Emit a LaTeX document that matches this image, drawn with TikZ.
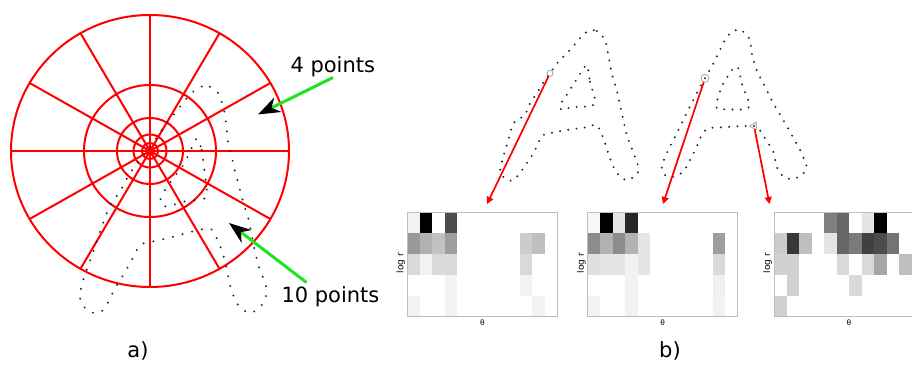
\documentclass[tikz,border=0pt]{standalone}
\usepackage{fontspec}
\setmainfont{DejaVu Sans}
\usetikzlibrary{arrows.meta,shapes.geometric}

\definecolor{ptgreen}{RGB}{30,228,30}
\definecolor{boxgray}{RGB}{190,190,190}

\tikzset{
  grid/.style={red, line width=2pt},
  letter/.style={black!85, line width=2.2pt, line cap=round, dash pattern=on 0pt off 8.3pt},
  bigletter/.style={letter, dash pattern=on 0pt off 10pt},
  pointer/.style={ptgreen, line width=3pt, -{Stealth[length=22pt,width=16pt,inset=7pt,black]}},
  probe/.style={red, line width=1.7pt, -{Triangle[length=7pt,width=7pt]}},
  keypt/.style={circle, draw=black!45, line width=0.6pt, inner sep=0pt, minimum size=#1},
  keytri/.style={regular polygon, regular polygon sides=3, shape border rotate=90, draw=black!45, line width=0.6pt, inner sep=0pt, minimum size=9pt},
  big/.style={font=\fontsize{21}{25}\selectfont},
  small/.style={font=\fontsize{9}{10}\selectfont}
}

\begin{document}
\begin{tikzpicture}[x=1pt, y=-1pt]
\useasboundingbox (0,0) rectangle (912,364);
\clip (0,0) rectangle (912,364);
\fill[white] (0,0) rectangle (912,364);

% log-polar bins
\coordinate (ctr) at (150,151);
\draw[grid] (ctr) ellipse (139 and 136);
\foreach \r in {66,33,16.5,8,4}
  \draw[grid] (ctr) circle (\r);
\foreach \a in {0,30,...,330}
  \draw[grid] (ctr) -- ++({139*cos(\a)},{136*sin(\a)});
\fill[red] (ctr) circle (3);

% sampled letter under the bins
\draw[bigletter] plot[smooth cycle, tension=0.45] coordinates {
  (200,86.7) (210,86.7) (218.3,93.3) (221.7,101.7) (225,115) (226.7,130)
  (228.3,145) (231.7,156.7) (235,171.7) (238.3,183.3) (241.7,196.7) (245,208.3)
  (248.3,218.3) (251.7,235) (255,251.7) (258.3,265) (263.3,278.3) (266.7,290)
  (263.3,303.3) (250,313.3) (236.7,303.3) (230,285) (226.7,268.3) (223.3,255)
  (218.3,241.7) (213.3,231.7) (208.3,228.3) (191.7,231.7) (170,237.7) (151.7,241.7)
  (140,245) (131.7,260) (123.3,275) (115,288.3) (108.3,301.7) (103.3,310)
  (96.7,313.3) (86.7,310) (80,298.3) (81.7,285) (86.7,270) (93.3,251.7)
  (100,231.7) (105,218.3) (110,205) (120,191.7) (125,181.7) (133.3,168.3)
  (143.3,155) (155,140) (165,125) (173.3,115) (180,106.7) (186.7,98.3) (195,90)};
\draw[bigletter] plot[smooth cycle, tension=0.45] coordinates {
  (196.7,138.3) (201.7,150) (203.3,161.7) (205,175) (206.7,188.3) (205,198.3)
  (183.3,201.7) (166.7,206.7) (160,201.7) (165,190) (173.3,178.3) (183.3,165)
  (190,151.7)};

\node[big, anchor=base west] (lab4) at (287,72) {4 points};
\node[big, anchor=base west] (lab10) at (278,302) {10 points};
\coordinate (g4a) at (333,77.5);
\coordinate (g4b) at (258,114.5);
\coordinate (g10a) at (306.5,282.5);
\coordinate (g10b) at (229,223);
\draw[pointer] (g4a) -- (g4b);
\draw[pointer] (g10a) -- (g10b);

% two handwritten samples
\draw[letter] plot[smooth cycle, tension=0.45] coordinates {
  (588.3,31) (596.7,31) (605,40) (608.3,55) (611.7,73.3) (616.7,90) (620,105)
  (623.3,120) (626.7,135) (631.7,148.3) (638.3,166.7) (636.7,175) (626.7,180)
  (620,176.7) (613.3,166.7) (608.3,153.3) (603.3,138.3) (596.7,125) (586.7,127.3)
  (566.7,130) (543.3,135) (538.3,143.3) (533.3,153.3) (526.7,163.3) (518.3,175)
  (511.7,180.7) (505,178.3) (500,171.7) (503.3,156.7) (508.3,140) (513.3,123.3)
  (520,118.3) (525,115) (530,103.3) (536.7,93.3) (545,80) (550,73.3) (558.3,61.7)
  (570,50) (580,38.3)};
\draw[letter] plot[smooth cycle, tension=0.45] coordinates {
  (586.7,65) (590,81.7) (595,100) (591.7,106) (571.7,107.3) (561.7,110)
  (560,105) (566.7,95) (578.3,76.7)};
\draw[letter] plot[smooth cycle, tension=0.45] coordinates {
  (736.7,30) (743.3,31.7) (750,40) (751.7,53.3) (756.7,70) (765,86.7) (773.3,103.3)
  (783.3,120) (791.7,135) (800,150) (806.7,166.7) (801.7,175) (791.7,179.3)
  (781.7,175) (776.7,166.7) (773.3,151.7) (765,138.3) (756.7,126.7) (743.3,126)
  (721.7,127.3) (708.3,128.3) (701.7,135) (696.7,146.7) (690,160) (683.3,171.7)
  (673.3,176.7) (665,175) (661.7,166.7) (666.7,153.3) (673.3,140) (680,126.7)
  (688.3,110) (696.7,93.3) (705,78.3) (711.7,66.7) (718.3,53.3) (725,40) (730,33.3)};
\draw[letter] plot[smooth cycle, tension=0.45] coordinates {
  (733.3,68.3) (738.3,68.3) (741.7,83.3) (746.7,96.7) (750,105) (745,109.3)
  (726.7,109.3) (716.7,108.3) (718.3,96.7) (723.3,83.3) (730,73.3)};

\node[keypt=6pt] (p1) at (550,73.3) {};
\node[keypt=8pt] (p2) at (705,78.3) {};
\node[keytri] (p3) at (754,126) {};
\coordinate (t1) at (487,204);
\coordinate (t2) at (663,204);
\coordinate (t3) at (769.5,204);
\draw[probe] (p1) -- (t1);
\draw[probe] (p2) -- (t2);
\draw[probe] (p3) -- (t3);

% histograms, 12 angle bins x 5 radius bins
\coordinate (h1) at (407.3,212.3);
\coordinate (h2) at (587.7,212.3);
\coordinate (h3) at (774,212.3);
\foreach \c/\r/\v in {0/0/5, 1/0/100, 3/0/70,
    0/1/40, 1/1/30, 2/1/24, 3/1/38, 9/1/20, 10/1/25,
    0/2/15, 1/2/5, 2/2/15, 3/2/15, 9/2/15,
    3/3/5, 9/3/5, 0/4/5, 3/4/5, 10/4/5}
  \fill[black!\v] ([shift={(\c*12.5,\r*20.88)}]h1) rectangle ++(12.5,20.88);
\foreach \c/\r/\v in {0/0/3, 1/0/100, 2/0/10, 3/0/85,
    0/1/45, 1/1/30, 2/1/45, 3/1/30, 4/1/10, 10/1/38,
    0/2/12, 1/2/10, 2/2/10, 3/2/5, 4/2/10, 10/2/15,
    3/3/5, 10/3/6, 0/4/5, 3/4/5, 10/4/5}
  \fill[black!\v] ([shift={(\c*12.5,\r*20.88)}]h2) rectangle ++(12.5,20.88);
\foreach \c/\r/\v in {4/0/50, 5/0/60, 7/0/10, 8/0/100,
    0/1/20, 1/1/78, 2/1/25, 4/1/10, 5/1/60, 6/1/52, 7/1/75, 8/1/70, 9/1/55,
    0/2/18, 1/2/18, 5/2/15, 7/2/15, 8/2/35, 10/2/25,
    1/3/18, 6/3/15, 0/4/18}
  \fill[black!\v] ([shift={(\c*12.5,\r*20.88)}]h3) rectangle ++(12.5,20.88);
\foreach \h in {h1,h2,h3} {
  \draw[boxgray, line width=1pt] (\h) rectangle ++(150,104.4);
  \node[small, rotate=90] at ([shift={(-6.3,51)}]\h) {log r};
  \node[font=\fontsize{7.5}{8}\selectfont] at ([shift={(75,110)}]\h) {θ};
}

\node[big, anchor=base] (capa) at (138,357) {a)};
\node[big, anchor=base] (capb) at (670,357) {b)};
\end{tikzpicture}
\end{document}
